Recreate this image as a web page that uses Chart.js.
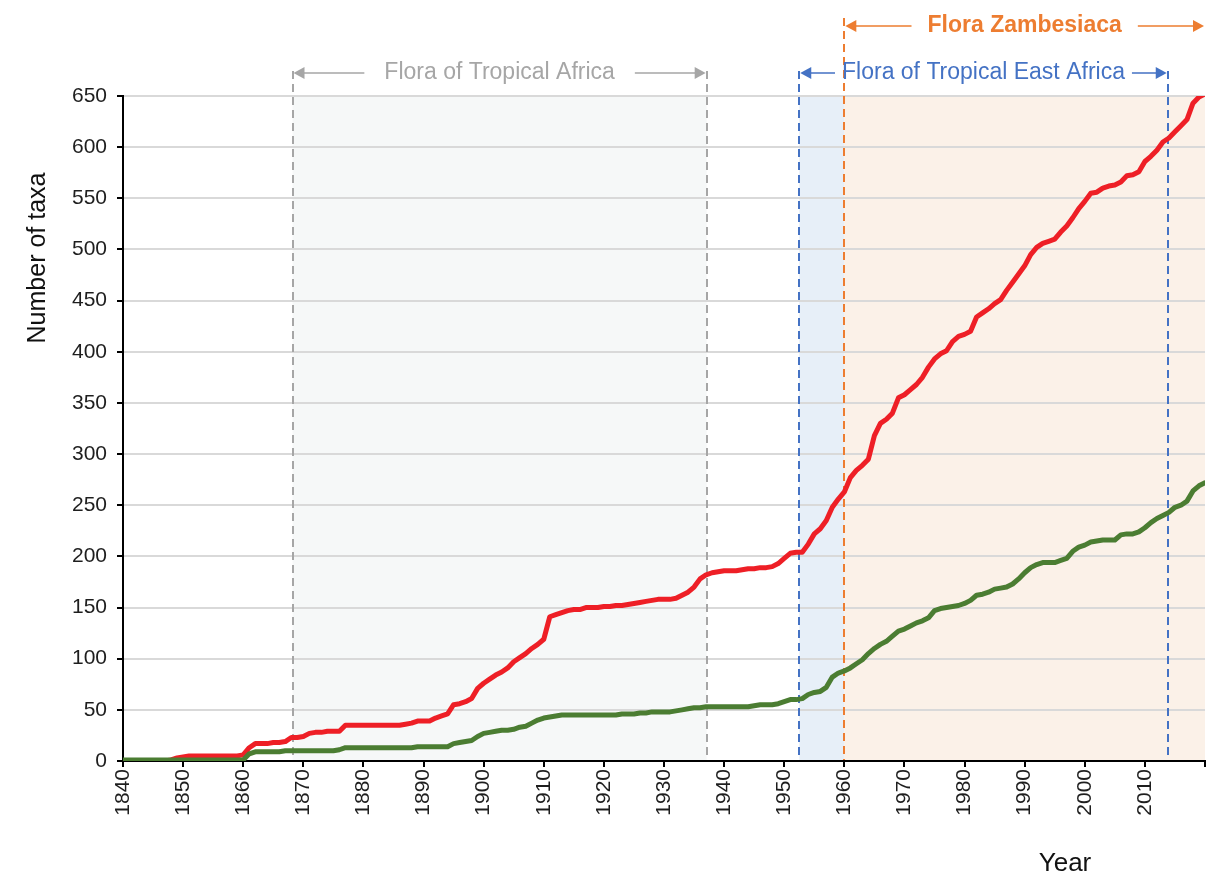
<!DOCTYPE html>
<html>
<head>
<meta charset="utf-8">
<script src="https://cdn.jsdelivr.net/npm/chart.js@4.4.1/dist/chart.umd.min.js"></script>
<style>
  html, body { margin: 0; padding: 0; background: #fff; }
  canvas { display: block; }
</style>
</head>
<body>
<canvas id="taxaChart" width="1206" height="874"></canvas>
<script>
    // data, one value per year
    var years = [
      1840, 1841, 1842, 1843, 1844, 1845, 1846, 1847, 1848, 1849,
      1850, 1851, 1852, 1853, 1854, 1855, 1856, 1857, 1858, 1859,
      1860, 1861, 1862, 1863, 1864, 1865, 1866, 1867, 1868, 1869,
      1870, 1871, 1872, 1873, 1874, 1875, 1876, 1877, 1878, 1879,
      1880, 1881, 1882, 1883, 1884, 1885, 1886, 1887, 1888, 1889,
      1890, 1891, 1892, 1893, 1894, 1895, 1896, 1897, 1898, 1899,
      1900, 1901, 1902, 1903, 1904, 1905, 1906, 1907, 1908, 1909,
      1910, 1911, 1912, 1913, 1914, 1915, 1916, 1917, 1918, 1919,
      1920, 1921, 1922, 1923, 1924, 1925, 1926, 1927, 1928, 1929,
      1930, 1931, 1932, 1933, 1934, 1935, 1936, 1937, 1938, 1939,
      1940, 1941, 1942, 1943, 1944, 1945, 1946, 1947, 1948, 1949,
      1950, 1951, 1952, 1953, 1954, 1955, 1956, 1957, 1958, 1959,
      1960, 1961, 1962, 1963, 1964, 1965, 1966, 1967, 1968, 1969,
      1970, 1971, 1972, 1973, 1974, 1975, 1976, 1977, 1978, 1979,
      1980, 1981, 1982, 1983, 1984, 1985, 1986, 1987, 1988, 1989,
      1990, 1991, 1992, 1993, 1994, 1995, 1996, 1997, 1998, 1999,
      2000, 2001, 2002, 2003, 2004, 2005, 2006, 2007, 2008, 2009,
      2010, 2011, 2012, 2013, 2014, 2015, 2016, 2017, 2018, 2019,
      2020
    ];

    var redTaxa = [
      0, 0, 0, 0, 0, 0, 0, 0, 1, 3,
      4, 5, 5, 5, 5, 5, 5, 5, 5, 5,
      6, 13, 17, 17, 17, 18, 18, 19, 23, 23,
      24, 27, 28, 28, 29, 29, 29, 35, 35, 35,
      35, 35, 35, 35, 35, 35, 35, 36, 37, 39,
      39, 39, 42, 44, 46, 55, 56, 58, 61, 71,
      76, 80, 84, 87, 91, 97, 101, 105, 110, 114,
      119, 141, 143, 145, 147, 148, 148, 150, 150, 150,
      151, 151, 152, 152, 153, 154, 155, 156, 157, 158,
      158, 158, 159, 162, 165, 170, 178, 182, 184, 185,
      186, 186, 186, 187, 188, 188, 189, 189, 190, 193,
      198, 203, 204, 204, 212, 222, 227, 235, 248, 256,
      263, 277, 284, 289, 295, 318, 330, 334, 340, 355,
      358, 363, 368, 375, 385, 393, 398, 401, 410, 415,
      417, 420, 434, 438, 442, 447, 451, 460, 468, 476,
      484, 495, 502, 506, 508, 510, 517, 523, 531, 540,
      547, 555, 556, 560, 562, 563, 566, 572, 573, 576,
      586, 591, 597, 605, 609, 615, 621, 627, 643, 649,
      652
    ];

    var greenTaxa = [
      1, 1, 1, 1, 1, 1, 1, 1, 1, 1,
      1, 1, 1, 1, 1, 1, 1, 1, 1, 1,
      1, 7, 9, 9, 9, 9, 9, 10, 10, 10,
      10, 10, 10, 10, 10, 10, 11, 13, 13, 13,
      13, 13, 13, 13, 13, 13, 13, 13, 13, 14,
      14, 14, 14, 14, 14, 17, 18, 19, 20, 24,
      27, 28, 29, 30, 30, 31, 33, 34, 37, 40,
      42, 43, 44, 45, 45, 45, 45, 45, 45, 45,
      45, 45, 45, 46, 46, 46, 47, 47, 48, 48,
      48, 48, 49, 50, 51, 52, 52, 53, 53, 53,
      53, 53, 53, 53, 53, 54, 55, 55, 55, 56,
      58, 60, 60, 61, 65, 67, 68, 72, 82, 86,
      88, 91, 95, 99, 105, 110, 114, 117, 122, 127,
      129, 132, 135, 137, 140, 147, 149, 150, 151, 152,
      154, 157, 162, 163, 165, 168, 169, 170, 173, 178,
      184, 189, 192, 194, 194, 194, 196, 198, 205, 209,
      211, 214, 215, 216, 216, 216, 221, 222, 222, 224,
      228, 233, 237, 240, 243, 248, 250, 254, 264, 269,
      272
    ];

    var yTicks = [0, 50, 100, 150, 200, 250, 300, 350, 400, 450, 500, 550, 600, 650];
    var xTicks = [1840, 1850, 1860, 1870, 1880, 1890, 1900, 1910, 1920, 1930, 1940, 1950, 1960, 1970, 1980, 1990, 2000, 2010, 2020];

    // flora projects: name, first and last year
    var floraNames = ['Flora of Tropical Africa', 'Flora of Tropical East Africa', 'Flora Zambesiaca'];
    var floraStart = [1868.2, 1952.5, 1960];
    var floraEnd = [1937.1, 2013.8, 2020];

    var floraStyle = [
      { color: '#a6a6a6', fill: '#f6f8f8', y: 73, font: '23px "Liberation Sans", Arial, sans-serif', gap: 20, top: 71, endLine: true },
      { color: '#4472c4', fill: '#e7eff8', y: 73, font: '23px "Liberation Sans", Arial, sans-serif', gap: 7, top: 71, endLine: true },
      { color: '#ed7d31', fill: '#fbf1e8', y: 26, font: 'bold 23px "Liberation Sans", Arial, sans-serif', gap: 16, top: 18, endLine: false }
    ];

    function arrowHead(c, x, y, dir) {
      c.beginPath();
      c.moveTo(x, y);
      c.lineTo(x + dir * 11, y - 6);
      c.lineTo(x + dir * 11, y + 6);
      c.closePath();
      c.fill();
    }

    var floraPlugin = {
      id: 'floras',
      beforeDraw: function (chart) {
        var c = chart.ctx, a = chart.chartArea, xs = chart.scales.x;
        c.save();
        // light bands behind the grid
        for (var i = 0; i < floraNames.length; i++) {
          var x1 = xs.getPixelForValue(floraStart[i]);
          var x2 = xs.getPixelForValue(i === 1 ? floraStart[2] : floraEnd[i]);
          c.fillStyle = floraStyle[i].fill;
          c.fillRect(x1, a.top, x2 - x1, a.bottom - a.top);
        }
        c.restore();
      },
      beforeDatasetsDraw: function (chart) {
        var c = chart.ctx, a = chart.chartArea, xs = chart.scales.x;
        c.save();
        c.lineWidth = 2;
        c.setLineDash([8, 5]);
        for (var i = 0; i < floraNames.length; i++) {
          var s = floraStyle[i];
          c.strokeStyle = s.color;
          var pts = [floraStart[i]];
          if (s.endLine) pts.push(floraEnd[i]);
          pts.forEach(function (v) {
            var px = Math.round(xs.getPixelForValue(v));
            c.beginPath();
            c.moveTo(px, s.top);
            c.lineTo(px, a.bottom - 1);
            c.stroke();
          });
        }
        c.restore();
      },
      afterDraw: function (chart) {
        var c = chart.ctx, a = chart.chartArea, xs = chart.scales.x;
        c.save();
        for (var i = 0; i < floraNames.length; i++) {
          var s = floraStyle[i];
          var x1 = xs.getPixelForValue(floraStart[i]);
          var x2 = Math.min(xs.getPixelForValue(floraEnd[i]), a.right);
          var mid = (x1 + x2) / 2;
          c.font = s.font;
          var w = c.measureText(floraNames[i]).width;
          c.fillStyle = s.color;
          c.strokeStyle = s.color;
          c.textAlign = 'center';
          c.textBaseline = 'middle';
          c.fillText(floraNames[i], mid, s.y);
          c.lineWidth = 1.5;
          c.beginPath();
          c.moveTo(x1 + 8, s.y);
          c.lineTo(mid - w / 2 - s.gap, s.y);
          c.moveTo(mid + w / 2 + s.gap, s.y);
          c.lineTo(x2 - 8, s.y);
          c.stroke();
          arrowHead(c, x1 + 1, s.y, 1);
          arrowHead(c, x2 - 1, s.y, -1);
        }
        // axis titles
        c.fillStyle = '#111';
        c.font = '25px "Liberation Sans", Arial, sans-serif';
        c.textAlign = 'center';
        c.textBaseline = 'middle';
        c.save();
        c.translate(38, 258);
        c.rotate(-Math.PI / 2);
        c.fillText('Number of taxa', 0, 0);
        c.restore();
        c.font = '26px "Liberation Sans", Arial, sans-serif';
        c.textBaseline = 'alphabetic';
        c.fillText('Year', 1065, 871);
        c.restore();
      }
    };

    var ctx = document.getElementById('taxaChart').getContext('2d');
    var taxaChart = new Chart(ctx, {
      type: 'line',
      data: {
        labels: years,
        datasets: [{
          label: 'green',
          data: years.map(function (y, i) { return { x: y, y: greenTaxa[i] }; }),
          borderColor: '#4b7d32',
          borderWidth: 5,
          pointRadius: 0,
          tension: 0,
          borderJoinStyle: 'round',
          borderCapStyle: 'round'
        }, {
          label: 'red',
          data: years.map(function (y, i) { return { x: y, y: redTaxa[i] }; }),
          borderColor: '#ee1f26',
          borderWidth: 5,
          pointRadius: 0,
          tension: 0,
          borderJoinStyle: 'round',
          borderCapStyle: 'round'
        }]
      },
      options: {
        responsive: false,
        animation: false,
        layout: { padding: { top: 96, right: 1, left: 0, bottom: 0 } },
        plugins: {
          legend: { display: false },
          tooltip: { enabled: false }
        },
        scales: {
          x: {
            type: 'linear',
            min: 1840,
            max: 2020,
            afterFit: function (s) {
              s.height = 113;
              s.paddingLeft = 0;
              s.paddingRight = 0;
            },
            afterBuildTicks: function (s) {
              s.ticks = xTicks.map(function (v) { return { value: v }; });
            },
            grid: { drawOnChartArea: false, tickColor: '#000', tickLength: 6, lineWidth: 2 },
            border: { color: '#000', width: 2 },
            ticks: {
              autoSkip: false,
              minRotation: 90,
              maxRotation: 90,
              padding: 2,
              color: '#1e1e1e',
              font: { family: '"Liberation Sans", Arial, sans-serif', size: 21 },
              callback: function (v) { return v === 2020 ? '' : String(v); }
            }
          },
          y: {
            min: 0,
            max: 650,
            afterFit: function (s) {
              s.width = 123;
              s.paddingTop = 0;
              s.paddingBottom = 0;
            },
            afterBuildTicks: function (s) {
              s.ticks = yTicks.map(function (v) { return { value: v }; });
            },
            grid: { color: '#d9d9d9', lineWidth: 2, tickColor: '#000', tickLength: 6 },
            border: { color: '#000', width: 2 },
            ticks: {
              padding: 10,
              color: '#1e1e1e',
              font: { family: '"Liberation Sans", Arial, sans-serif', size: 21 }
            }
          }
        }
      },
      plugins: [floraPlugin]
    });
</script>
</body>
</html>
